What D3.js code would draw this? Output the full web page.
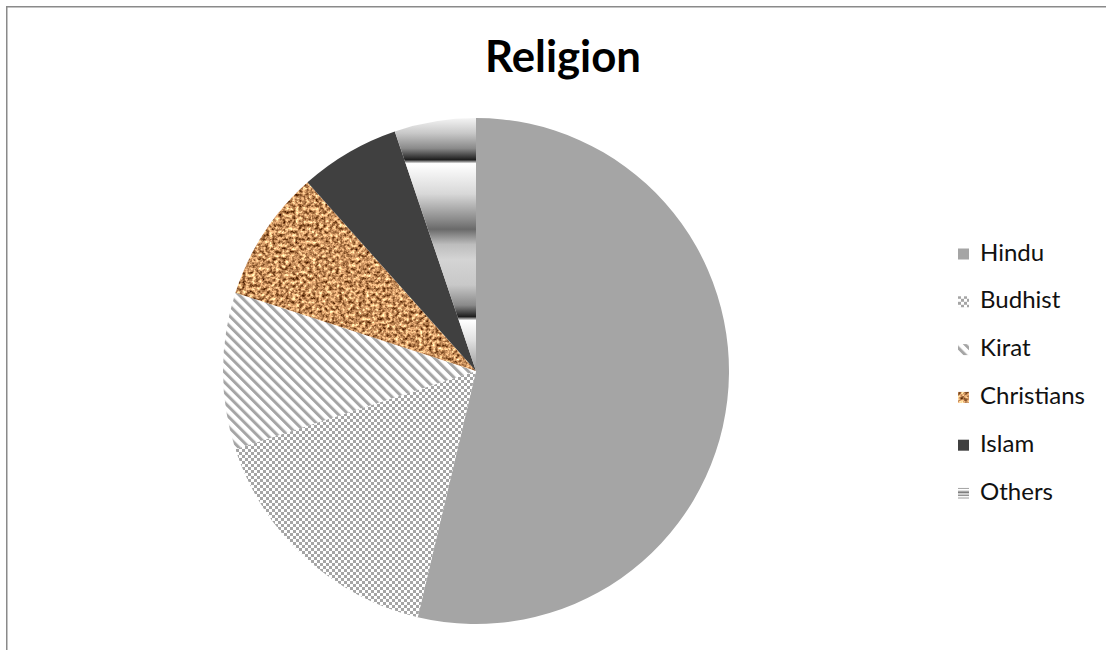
<!DOCTYPE html>
<html>
<head>
<meta charset="utf-8">
<script src="https://cdn.jsdelivr.net/npm/d3@7"></script>
<style>
  html, body { margin: 0; padding: 0; background: #fff; }
  svg { display: block; }
  text { font-family: Lato, "Open Sans", "Liberation Sans", sans-serif; }
</style>
</head>
<body>
<svg id="chart" width="1106" height="650"></svg>
<script>
// Religion shares (%)
const categories = ["Hindu", "Budhist", "Kirat", "Christians", "Islam", "Others"];
const shares = [53.7, 16.3, 10.0, 8.4, 6.4, 5.2];
const chartTitle = "Religion";

const svg = d3.select("#chart");
const defs = svg.append("defs");

// Budhist: small grey checkerboard
const checker = defs.append("pattern").attr("id", "fill-checker")
  .attr("patternUnits", "userSpaceOnUse").attr("width", 6).attr("height", 6);
checker.append("rect").attr("width", 6).attr("height", 6).attr("fill", "#fff");
checker.append("rect").attr("width", 3).attr("height", 3).attr("fill", "#a5a5a5");
checker.append("rect").attr("x", 3).attr("y", 3).attr("width", 3).attr("height", 3).attr("fill", "#a5a5a5");

// Kirat: wide downward diagonal stripes
const stripes = defs.append("pattern").attr("id", "fill-stripes")
  .attr("patternUnits", "userSpaceOnUse").attr("width", 7.2).attr("height", 7.2)
  .attr("patternTransform", "rotate(-45)");
stripes.append("rect").attr("width", 7.2).attr("height", 7.2).attr("fill", "#fff");
stripes.append("rect").attr("width", 3).attr("height", 7.2).attr("fill", "#a5a5a5");

// Christians: cork texture from fractal noise
const cork = defs.append("filter").attr("id", "fill-cork")
  .attr("x", 0).attr("y", 0).attr("width", 1).attr("height", 1)
  .attr("color-interpolation-filters", "sRGB");
cork.append("feTurbulence").attr("type", "fractalNoise")
  .attr("baseFrequency", 0.3).attr("numOctaves", 4).attr("seed", 11).attr("result", "noise");
cork.append("feColorMatrix").attr("in", "noise").attr("type", "matrix")
  .attr("values", "1.5 0 0 0 0.04  1.4 0 0 0 -0.13  1.2 0 0 0 -0.23  0 0 0 0 1")
  .attr("result", "tint");
cork.append("feComposite").attr("in", "tint").attr("in2", "SourceGraphic").attr("operator", "in");

// Others: chrome-like banded gradient
const chrome = defs.append("linearGradient").attr("id", "fill-chrome")
  .attr("x1", 0).attr("y1", 0).attr("x2", 0).attr("y2", 1);
[
  [0.00, "#f4f4f4"], [0.06, "#c8c8c8"], [0.12, "#8a8a8a"], [0.165, "#1e1e1e"],
  [0.18, "#ffffff"], [0.30, "#d8d8d8"], [0.40, "#8c8c8c"], [0.44, "#6a6a6a"],
  [0.50, "#bdbdbd"], [0.56, "#d4d4d4"], [0.66, "#c8c8c8"], [0.74, "#8a8a8a"],
  [0.785, "#1e1e1e"], [0.80, "#ffffff"], [0.88, "#e0e0e0"], [0.94, "#bcbcbc"],
  [1.00, "#9a9a9a"]
].forEach(([o, c]) => chrome.append("stop").attr("offset", o).attr("stop-color", c));

const fills = {
  Hindu: { fill: "#a5a5a5" },
  Budhist: { fill: "url(#fill-checker)" },
  Kirat: { fill: "url(#fill-stripes)" },
  Christians: { fill: "#c8935e", filter: "url(#fill-cork)" },
  Islam: { fill: "#404040" },
  Others: { fill: "url(#fill-chrome)" }
};

// Outer frame (top and left edges are inside the view)
svg.append("path").attr("d", "M6.75,650 V6.75 H1106")
  .attr("fill", "none").attr("stroke", "#8a8a8a").attr("stroke-width", 1.5);

// Title
const title = svg.append("text").attr("x", 563).attr("y", 72)
  .attr("text-anchor", "middle").attr("font-weight", 700).attr("font-size", 38)
  .attr("fill", "#000").text(chartTitle);
{
  const w = title.node().getComputedTextLength();
  title.attr("font-size", 38 * 156 / w);
}

// Pie
const cx = 476, cy = 371, radius = 253;
const data = categories.map((c, i) => ({ name: c, value: shares[i] }));
const pie = d3.pie().sort(null).value(d => d.value).startAngle(0).endAngle(2 * Math.PI);
const arc = d3.arc().innerRadius(0).outerRadius(radius);

const g = svg.append("g").attr("transform", `translate(${cx},${cy})`);
g.selectAll("path").data(pie(data)).join("path")
  .attr("d", arc)
  .attr("fill", d => fills[d.data.name].fill)
  .attr("filter", d => fills[d.data.name].filter || null);

// Legend
const legendY = d3.scalePoint().domain(categories).range([254, 493]);
const lg = svg.append("g");
const items = lg.selectAll("g").data(categories).join("g")
  .attr("transform", d => `translate(958,${legendY(d)})`);
items.append("rect").attr("x", 0).attr("y", -5.5).attr("width", 11).attr("height", 11)
  .attr("fill", d => fills[d].fill)
  .attr("filter", d => fills[d].filter || null);
const labels = items.append("text").attr("x", 22).attr("y", 6.5)
  .attr("font-size", 20).attr("fill", "#111").text(d => d);
{
  const cw = labels.filter(d => d === "Christians").node().getComputedTextLength();
  labels.attr("font-size", 20 * 105 / cw);
}
</script>
</body>
</html>
